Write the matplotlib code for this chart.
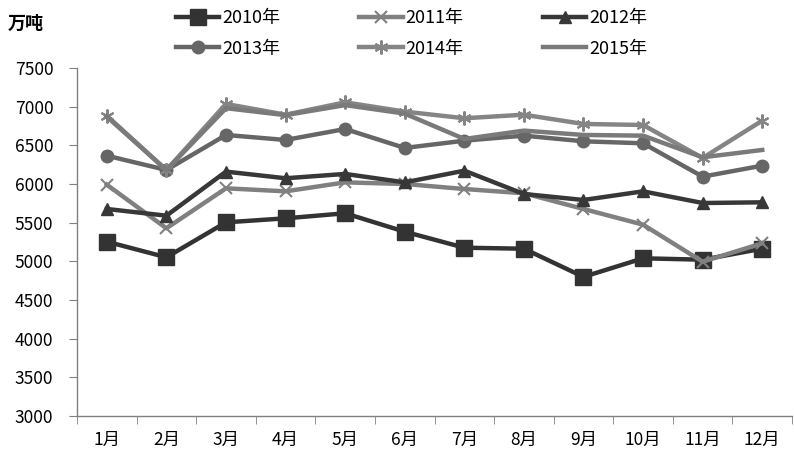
import matplotlib
matplotlib.use("Agg")
import matplotlib.pyplot as plt
import numpy as np

plt.rcParams['font.family'] = ['Noto Sans CJK SC', 'DejaVu Sans']

months = ['1月', '2月', '3月', '4月', '5月', '6月', '7月', '8月', '9月', '10月', '11月', '12月']
y2010 = [5254, 5052, 5504, 5556, 5621, 5383, 5176, 5163, 4799, 5039, 5021, 5163]
y2011 = [5991, 5427, 5944, 5905, 6021, 6000, 5935, 5880, 5677, 5474, 4995, 5233]
y2012 = [5677, 5590, 6160, 6074, 6130, 6021, 6172, 5871, 5793, 5905, 5754, 5763]
y2013 = [6366, 6181, 6634, 6569, 6711, 6466, 6560, 6625, 6552, 6526, 6095, 6237]
y2014 = [6883, 6180, 7035, 6896, 7056, 6936, 6850, 6896, 6776, 6763, 6336, 6819]
y2015 = [6870, 6180, 6980, 6890, 7020, 6910, 6582, 6690, 6634, 6625, 6345, 6440]
yticks = [3000, 3500, 4000, 4500, 5000, 5500, 6000, 6500, 7000, 7500]

fig = plt.figure(figsize=(7.94, 4.65), dpi=100)
ax = fig.add_axes([0.097, 0.1054, 0.9005, 0.7484])
x = np.arange(len(months))

lw = 3.2
l10, = ax.plot(x, y2010, color='#333333', lw=lw, marker='s', ms=11, label='2010年', zorder=3)
l11, = ax.plot(x, y2011, color='#808080', lw=lw, marker='x', ms=8, mew=1.5, label='2011年', zorder=3)
l12, = ax.plot(x, y2012, color='#383838', lw=lw, marker='^', ms=9, label='2012年', zorder=3)
l13, = ax.plot(x, y2013, color='#666666', lw=lw, marker='o', ms=9, label='2013年', zorder=3)
l14, = ax.plot(x, y2014, color='#858585', lw=lw, marker=(6, 2, 0), ms=10, mew=1.5, label='2014年', zorder=3)
l15, = ax.plot(x, y2015, color='#7a7a7a', lw=lw, label='2015年', zorder=3)

ax.set_xlim(-0.5, len(months) - 0.5)
ax.set_ylim(3000, 7500)
ax.set_yticks(yticks)
ax.set_yticklabels([str(v) for v in yticks])
ax.set_xticks(x)
ax.set_xticklabels(months)
ax.set_xticks(np.arange(-0.5, len(months)), minor=True)
ax.tick_params(axis='x', which='major', length=0, pad=11, labelsize=12.5)
ax.tick_params(axis='x', which='minor', length=6, direction='out', color='#808080')
ax.tick_params(axis='y', length=6, direction='out', color='#808080', labelsize=12.5, pad=11)
for s in ['top', 'right']:
    ax.spines[s].set_visible(False)
for s in ['left', 'bottom']:
    ax.spines[s].set_color('#808080')
    ax.spines[s].set_linewidth(1)

fig.text(0.01, 1 - 23 / 465, '万吨', fontsize=13, fontweight='bold', va='center', ha='left')

handles = [l10, l13, l11, l14, l12, l15]
fig.legend(handles=handles, labels=[h.get_label() for h in handles], ncol=3,
           loc='upper left', bbox_to_anchor=(176 / 794, 1 - 9 / 465), frameon=False,
           borderpad=0, borderaxespad=0,
           numpoints=1, fontsize=13, handlelength=2.4, handletextpad=0.15,
           columnspacing=4.4, labelspacing=0.7)

fig.savefig('out.png', dpi=100)
